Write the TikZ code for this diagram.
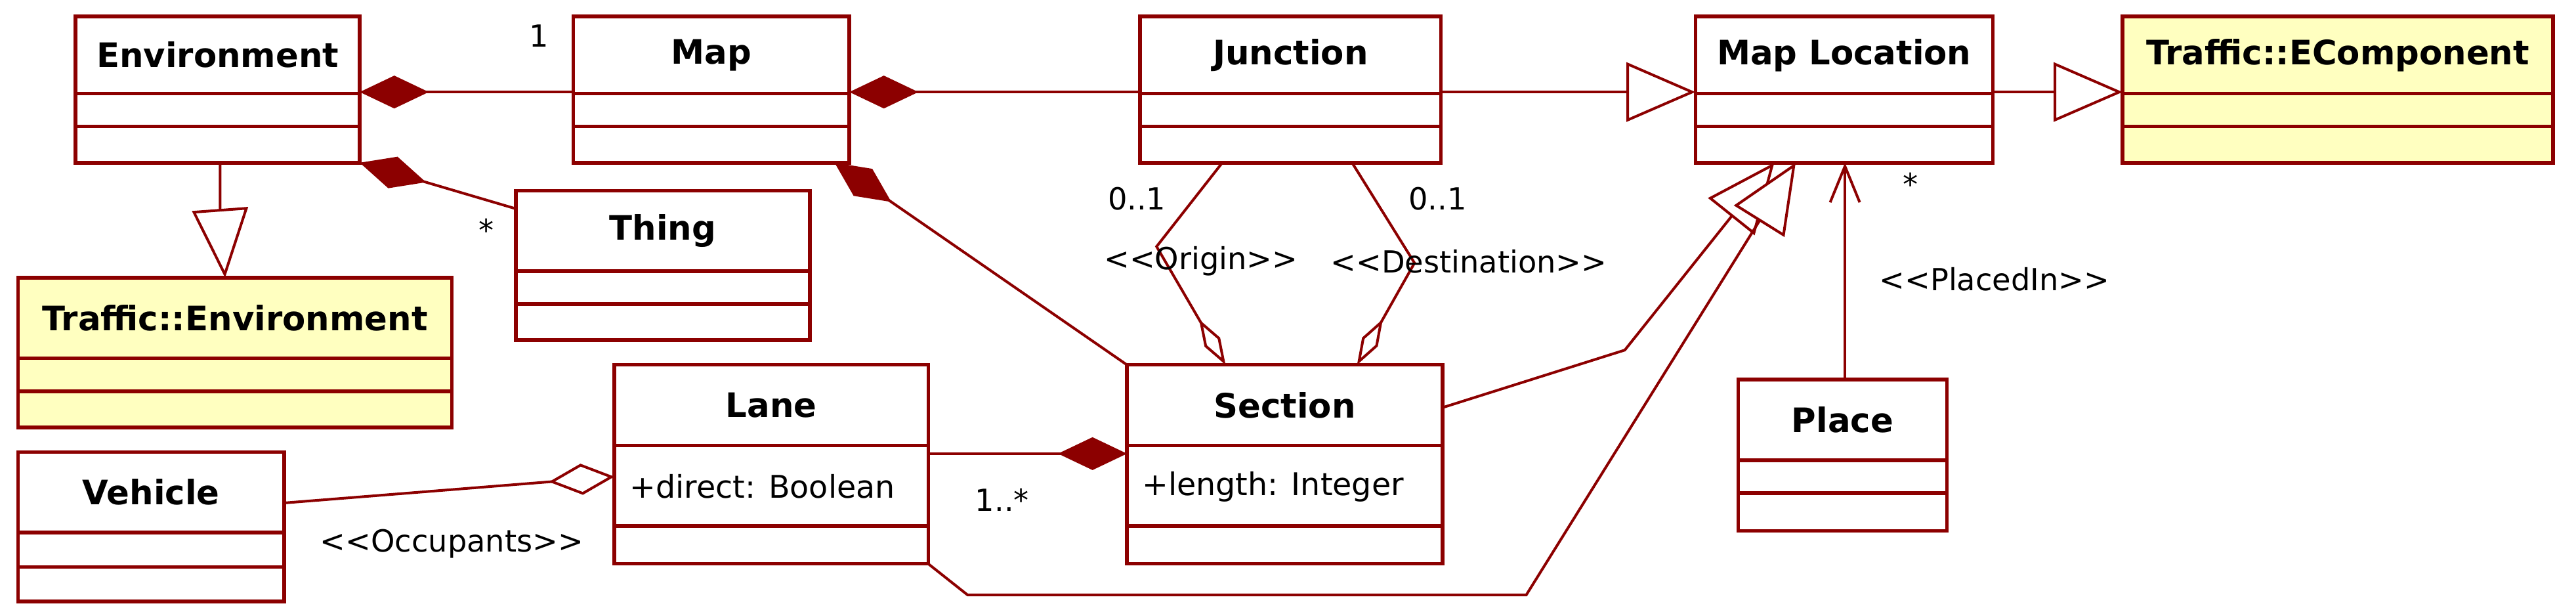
\documentclass[tikz,border=0pt]{standalone}
\usepackage{fontspec}
\setmainfont{DejaVu Sans}
\usetikzlibrary{arrows.meta}
\definecolor{uml}{RGB}{140,0,0}
\definecolor{ylw}{RGB}{255,255,192}
\begin{document}
\begin{tikzpicture}[x=1pt,y=-1pt,
  bx/.style={draw=uml,line width=2.2pt},
  ttl/.style={font=\bfseries\fontsize{20.5}{22}\selectfont,inner sep=0pt},
  att/.style={font=\fontsize{19}{21}\selectfont,inner sep=0pt},
  lbl/.style={font=\fontsize{18.5}{20}\selectfont,inner sep=0pt,text=black},
  ln/.style={draw=uml,line width=1.6pt},
  comp/.style={ln,{Diamond[length=42pt,width=20pt,fill=uml]}-},
  small/.style={ln,-{Diamond[length=32pt,width=11pt,open,fill=white]}},
  gen/.style={ln,-{Triangle[length=42pt,width=36pt,open,fill=white]}},
  nav/.style={ln,-{Straight Barb[length=22pt,width=18pt]}}]
\useasboundingbox (0,0) rectangle (1568,371);
\newcommand\umlcls[9]{%
  \path[bx,#2] (#3,#4) rectangle (#5,#6);
  \draw[bx] (#3,#7)--(#5,#7) (#3,#8)--(#5,#8);
  \node[ttl] (#1) at ({(#3+#5)/2},{(#4+#7)/2}) {#9};}
% classes
\umlcls{env}{}{46}{10}{219}{99}{57}{77}{Environment}
\umlcls{map}{}{349}{10}{517}{99}{57}{77}{Map}
\umlcls{jun}{}{694}{10}{877}{99}{57}{77}{Junction}
\umlcls{mloc}{}{1032}{10}{1213}{99}{57}{77}{Map Location}
\umlcls{ecomp}{fill=ylw}{1292}{10}{1554}{99}{57}{77}{Traffic::EComponent}
\umlcls{thing}{}{314}{116}{493}{207}{165}{185}{Thing}
\umlcls{tenv}{fill=ylw}{11}{169}{275}{260}{218}{238}{Traffic::Environment}
\umlcls{lane}{}{374}{222}{565}{343}{271}{320}{Lane}
\umlcls{sec}{}{686}{222}{878}{343}{271}{320}{Section}
\umlcls{veh}{}{11}{275}{173}{366}{324}{345}{Vehicle}
\umlcls{place}{}{1058}{231}{1185}{323}{280}{300}{Place}
\node[att,anchor=west] (laneatt) at (383,296) {+direct: Boolean};
\node[att,anchor=west] (secatt) at (695,296) {+length: Integer};
% anchor coordinates
\coordinate (envR) at (219,56); \coordinate (mapL) at (349,56);
\coordinate (mapR) at (517,56); \coordinate (junL) at (694,56);
\coordinate (junR) at (877,56); \coordinate (mlocL) at (1032,56);
\coordinate (mlocR) at (1213,56); \coordinate (ecL) at (1292,56);
\coordinate (envB) at (134,99); \coordinate (tenvT) at (137,169);
\coordinate (envBR) at (219,99); \coordinate (thingTL) at (314,127);
\coordinate (mapBR) at (508,99); \coordinate (secTL) at (686,222);
\coordinate (junB1) at (744,99); \coordinate (secT1) at (746,222);
\coordinate (junB2) at (823,99); \coordinate (secT2) at (826,222);
\coordinate (secR) at (878,248); \coordinate (mlocB1) at (1080,99);
\coordinate (laneBR) at (565,343); \coordinate (mlocB2) at (1093,99);
\coordinate (placeT) at (1123,231); \coordinate (mlocB3) at (1123,99);
\coordinate (laneR) at (565,276); \coordinate (secL) at (686,276);
\coordinate (vehR) at (173,306); \coordinate (laneL) at (374,290);
% connectors
\draw[comp] (envR) -- (mapL);
\draw[comp] (mapR) -- (junL);
\draw[gen] (junR) -- (mlocL);
\draw[gen] (mlocR) -- (ecL);
\draw[ln,-{Triangle[length=42pt,width=34pt,open,fill=white]}] (envB) -- (134,128) -- (tenvT);
\draw[comp] (envBR) -- (thingTL);
\draw[comp] (mapBR) -- (secTL);
\draw[small] (junB1) -- (704,150) -- (secT1);
\draw[small] (junB2) -- (861,160) -- (secT2);
\draw[gen] (secR) -- (989,213) -- (mlocB1);
\draw[gen] (laneBR) -- (589,362) -- (929,362) -- (mlocB2);
\draw[nav] (placeT) -- (mlocB3);
\draw[ln,-{Diamond[length=42pt,width=20pt,fill=uml]}] (laneR) -- (secL);
\draw[ln,-{Diamond[length=40pt,width=19pt,open,fill=white]}] (vehR) -- (laneL);
% labels
\node[lbl] (l1) at (328,22) {1};
\node[lbl] (l2) at (296,140) {*};
\node[lbl] (l3) at (692,121) {0..1};
\node[lbl] (l4) at (875,121) {0..1};
\node[lbl] (l5) at (731,159) {<{}<Origin>{}>};
\node[lbl] (l6) at (894,159) {<{}<Destination>{}>};
\node[lbl] (l7) at (1163,112) {*};
\node[lbl] (l8) at (1214,170) {<{}<PlacedIn>{}>};
\node[lbl] (l9) at (610,304) {1..*};
\node[lbl] (l10) at (275,331) {<{}<Occupants>{}>};
\end{tikzpicture}
\end{document}
